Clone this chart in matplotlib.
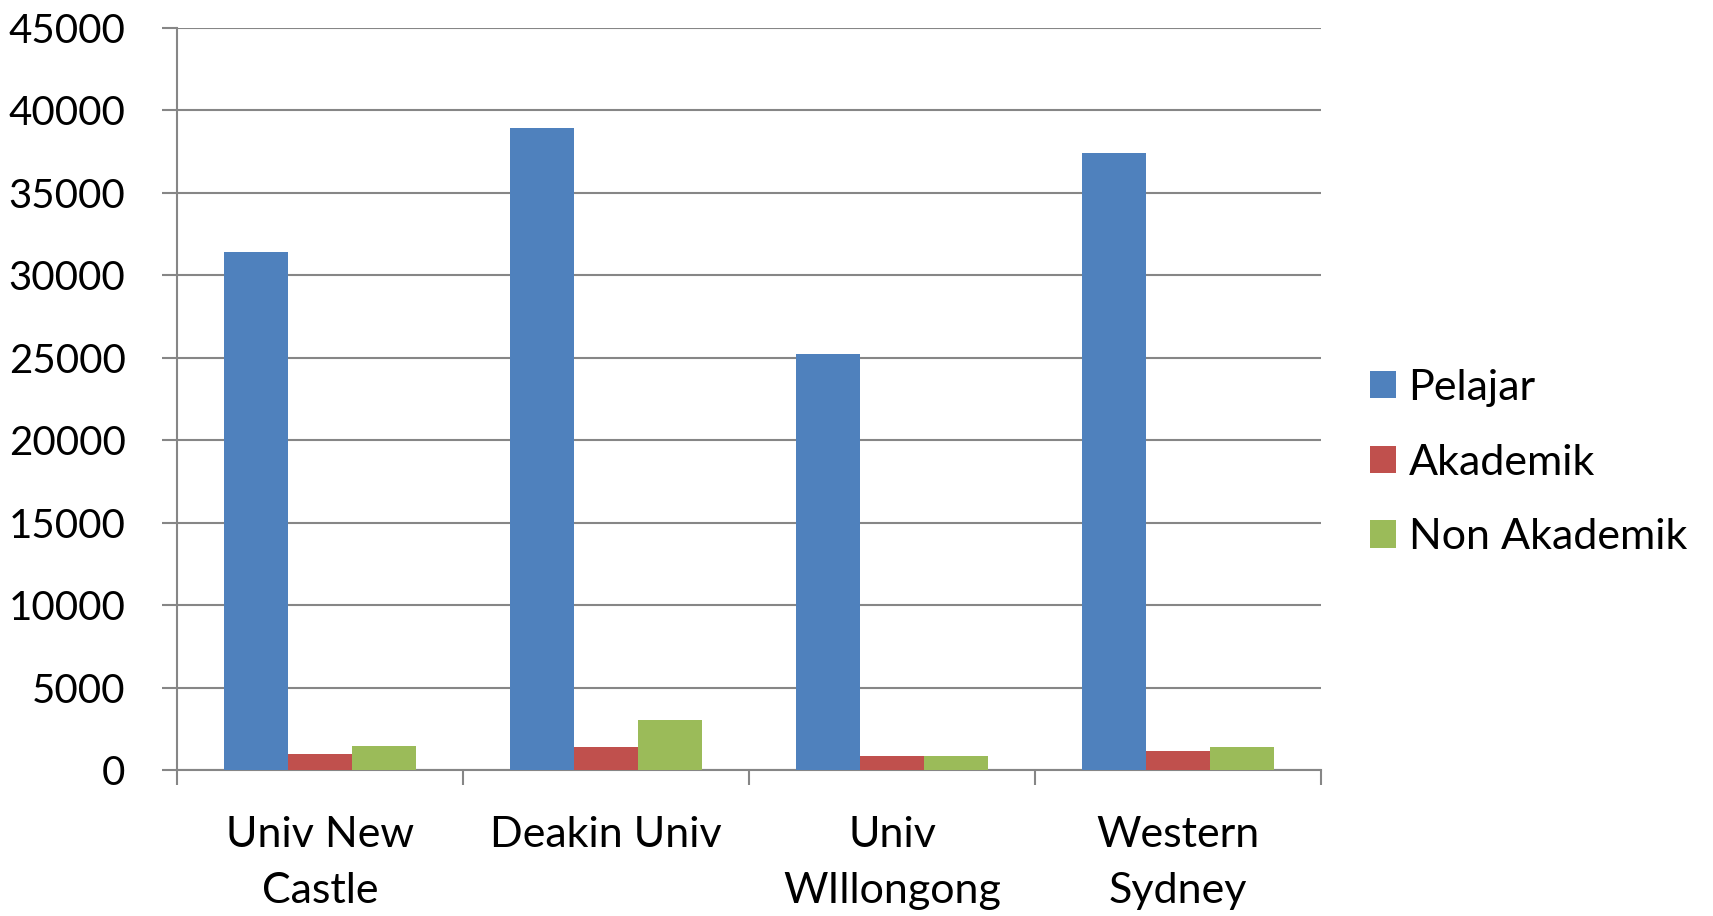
import numpy as np
import matplotlib.pyplot as plt

universitas = ['Univ New\nCastle', 'Deakin Univ', 'Univ\nWIllongong', 'Western\nSydney']
pelajar = [31400, 38900, 25200, 37400]
akademik = [950, 1390, 830, 1130]
non_akademik = [1460, 3010, 870, 1380]

plt.rcParams['font.family'] = ['Lato', 'DejaVu Sans']

fig = plt.figure(figsize=(17.13, 9.16), dpi=100)
ax = fig.add_axes([0.1033, 0.1594, 0.6679, 0.8104])

x = np.arange(len(universitas))
w = 0.224
abu = '#868686'
ax.bar(x - w, pelajar, w, color='#4F81BD', label='Pelajar', zorder=3)
ax.bar(x, akademik, w, color='#C0504D', label='Akademik', zorder=3)
ax.bar(x + w, non_akademik, w, color='#9BBB59', label='Non Akademik', zorder=3)

ax.set_xlim(-0.5, len(universitas) - 0.5)
ax.set_ylim(0, 45000)
ax.set_yticks(np.arange(0, 45001, 5000))
ax.yaxis.grid(True, color=abu, linewidth=1.5, zorder=0)

ax.set_xticks(x)
ax.set_xticklabels(universitas, fontsize=31, linespacing=1.6)
ax.set_xticks(np.arange(-0.5, len(universitas), 1), minor=True)
ax.tick_params(axis='x', which='major', length=0, pad=33)
ax.tick_params(axis='x', which='minor', length=11, width=1.5, color=abu, direction='out')
ax.tick_params(axis='y', labelsize=29, length=11, width=1.5, color=abu, pad=26)

for s in ['top', 'right']:
    ax.spines[s].set_visible(False)
for s in ['left', 'bottom']:
    ax.spines[s].set_color(abu)
    ax.spines[s].set_linewidth(1.5)

fig.legend(loc='center left', bbox_to_anchor=(0.777, 0.495), frameon=False,
           fontsize=31, handlelength=0.6, handleheight=0.6, labelspacing=0.85,
           handletextpad=0.3)

fig.savefig('out.png', dpi=100)
